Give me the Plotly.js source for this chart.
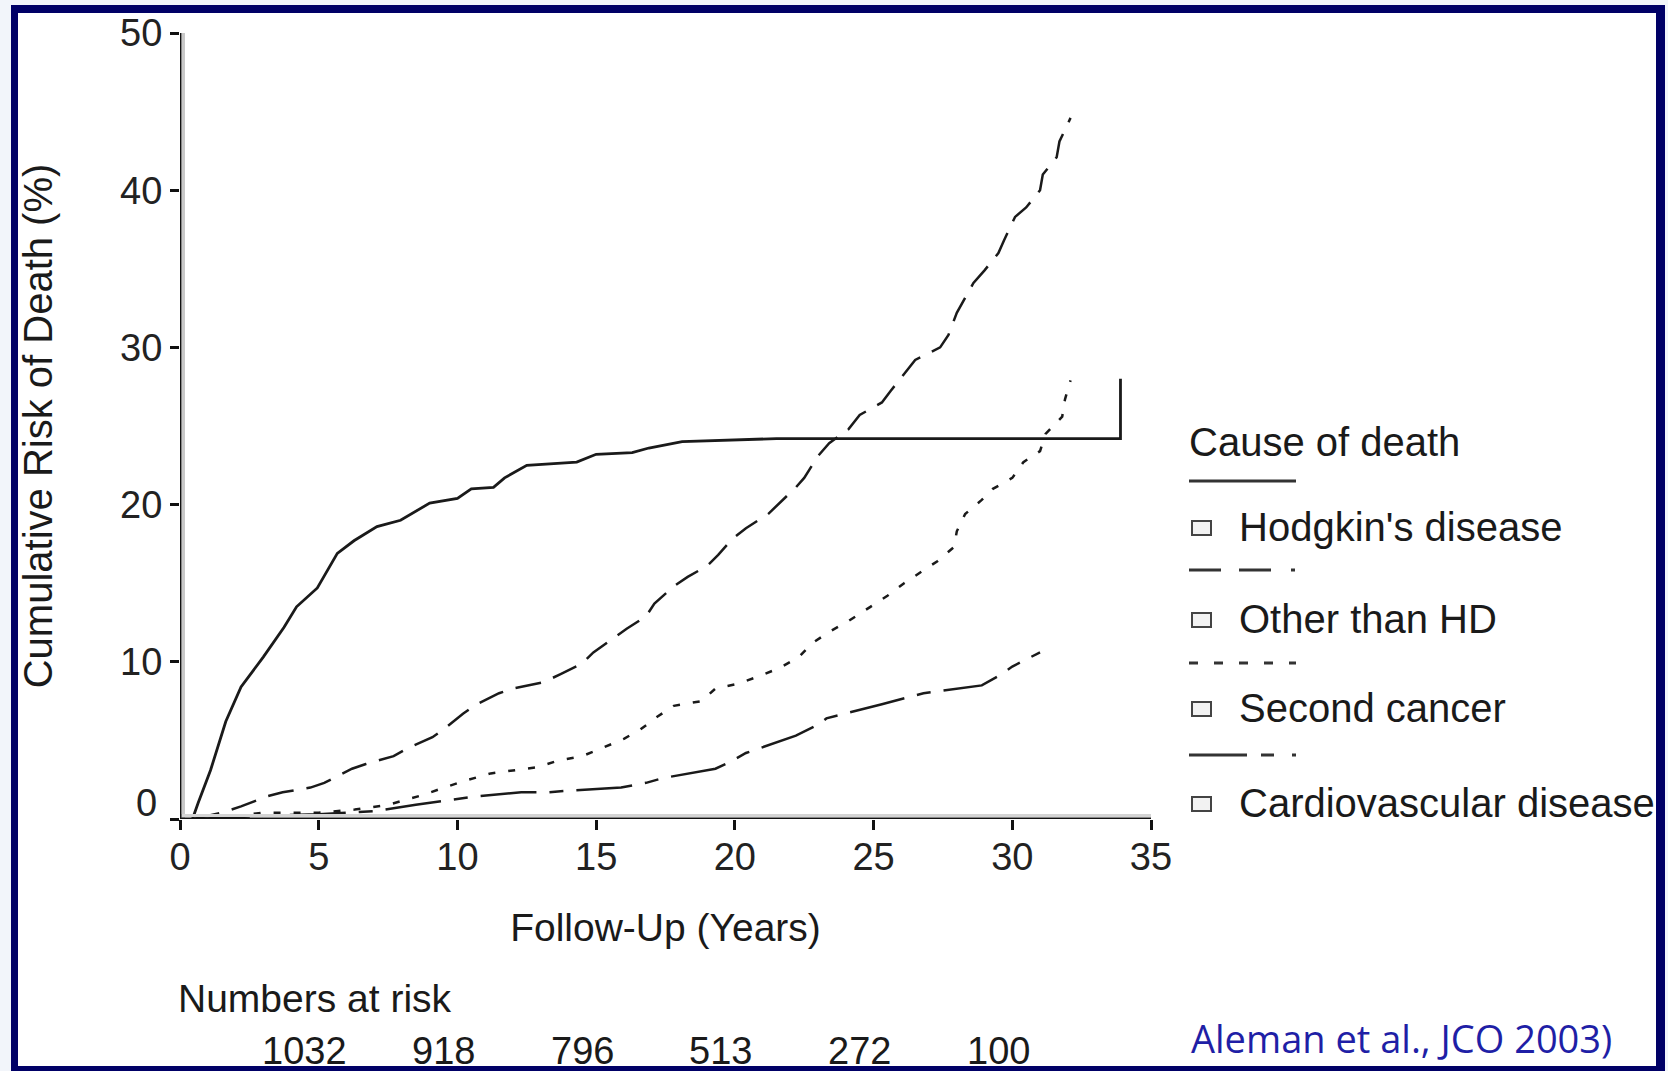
<!DOCTYPE html>
<html>
<head>
<meta charset="utf-8">
<script src="https://cdn.plot.ly/plotly-3.0.1.min.js"></script>
<style>
  html, body { margin: 0; padding: 0; background: #f2f5fa; }
  #frame { position: absolute; left: 11px; top: 5px; width: 1654px; height: 1066px;
           box-sizing: border-box; border-style: solid; border-color: #000066;
           border-width: 8px 9px 5px 7px; background: #ffffff; }
  #chart { position: absolute; left: 0; top: 0; width: 1668px; height: 1071px; }
</style>
</head>
<body>
<div id="frame"></div>
<div id="chart"></div>
<script>
// ---------------- data ----------------
const seriesNames = ["Hodgkin's disease", "Other than HD", "Second cancer", "Cardiovascular disease"];
const legendTitle = "Cause of death";

const hdYears = [0.45, 0.65, 1.1, 1.45, 1.65, 2.2, 2.55, 3.0, 3.75, 4.2, 4.95, 5.67, 6.27, 7.1, 7.95, 9.0, 10.0, 10.5, 11.3, 11.7, 12.5, 13.3, 14.3, 15.0, 16.3, 16.9, 18.1, 21.5, 33.9, 33.9];
const hdRisk  = [0, 1.0, 3.1, 5.0, 6.2, 8.4, 9.2, 10.3, 12.2, 13.5, 14.7, 16.9, 17.7, 18.6, 19.0, 20.1, 20.4, 21.0, 21.1, 21.7, 22.5, 22.6, 22.7, 23.2, 23.3, 23.6, 24.0, 24.2, 24.2, 28.0];

const otherYears = [0.5, 1.5, 2.2, 3.15, 3.7, 4.7, 5.2, 6.2, 6.7, 7.7, 8.2, 9.1, 9.5, 10.2, 10.7, 11.5, 12.0, 13.1, 13.7, 14.5, 14.9, 15.6, 16.1, 16.8, 17.1, 17.8, 18.3, 19.0, 19.4, 19.9, 20.4, 21.2, 21.6, 22.2, 22.5, 23.0, 23.4, 24.1, 24.5, 25.3, 25.6, 26.1, 26.5, 27.4, 27.7, 28.0, 28.6, 29.0, 29.5, 29.7, 30.1, 30.5, 31.0, 31.1, 31.6, 31.7, 32.1];
const otherRisk  = [0, 0.4, 0.8, 1.45, 1.7, 2.0, 2.3, 3.2, 3.5, 4.0, 4.5, 5.2, 5.7, 6.7, 7.3, 8.0, 8.3, 8.7, 9.2, 9.9, 10.6, 11.5, 12.1, 12.9, 13.7, 14.8, 15.4, 16.1, 16.8, 17.8, 18.5, 19.4, 20.1, 21.1, 21.7, 23.1, 23.9, 24.8, 25.7, 26.5, 27.2, 28.3, 29.2, 30.0, 30.8, 32.2, 34.1, 34.9, 36.0, 36.8, 38.3, 38.9, 40.0, 41.0, 42.1, 43.1, 44.6];

const cancerYears = [0.5, 2.0, 3.0, 5.0, 6.3, 7.5, 8.7, 9.5, 10.2, 11.2, 12.0, 12.9, 13.6, 14.5, 15.2, 16.0, 16.6, 17.2, 17.8, 18.8, 19.3, 20.1, 20.9, 21.6, 22.3, 22.8, 23.4, 24.1, 24.8, 25.5, 26.1, 26.7, 27.3, 27.9, 28.0, 28.3, 28.9, 29.3, 30.0, 30.4, 31.0, 31.2, 31.8, 31.9, 32.1];
const cancerRisk  = [0, 0.2, 0.4, 0.4, 0.6, 0.9, 1.5, 2.0, 2.4, 2.9, 3.1, 3.3, 3.7, 4.0, 4.5, 5.1, 5.7, 6.5, 7.2, 7.5, 8.3, 8.6, 9.1, 9.6, 10.3, 11.2, 11.9, 12.6, 13.4, 14.2, 15.0, 15.7, 16.4, 17.3, 18.3, 19.4, 20.3, 21.0, 21.7, 22.7, 23.4, 24.5, 25.6, 26.7, 27.9];

const cardioYears = [0.5, 3.0, 5.0, 7.0, 8.5, 9.5, 10.5, 12.3, 13.3, 14.0, 15.9, 16.8, 17.4, 19.3, 19.8, 20.4, 22.2, 23.0, 23.3, 25.3, 26.2, 26.8, 28.9, 29.6, 30.0, 31.0];
const cardioRisk  = [0, 0.2, 0.3, 0.5, 0.9, 1.15, 1.4, 1.7, 1.7, 1.8, 2.0, 2.3, 2.6, 3.2, 3.6, 4.2, 5.3, 6.0, 6.4, 7.3, 7.7, 8.0, 8.5, 9.2, 9.7, 10.6];

const xTickVals = [0, 5, 10, 15, 20, 25, 30, 35];
const yTickVals = [0, 10, 20, 30, 40, 50];
const yTickLabels = ["0", "10", "20", "30", "40", "50"];
const xTitle = "Follow-Up (Years)";
const yTitle = "Cumulative Risk of Death (%)";

const riskLabel = "Numbers at risk";
const riskYears = [5, 10, 15, 20, 25, 30];
const riskNumbers = [1032, 918, 796, 513, 272, 100];
const citation = "Aleman et al., JCO 2003)";

// ---------------- layout geometry ----------------
const W = 1668, H = 1071;
const ML = 180, MR = 517, MT = 33, MB = 252;
const PW = W - ML - MR, PH = H - MT - MB;
const xp = px => (px - ML) / PW;
const yp = py => (H - MB - py) / PH;

const FONT = "Liberation Sans, Arial, sans-serif";
const INK = "#1a1a1a";
const LW = 2.5;
const xMax = xTickVals[xTickVals.length - 1];
const yMax = yTickVals[yTickVals.length - 1];

const curveDash = ["solid", "26px,13px", "7px,13px", "56px,13px,14px,13px"];
const legendDash = ["solid", "32px,18px,32px,20px,4px,40px", "9px,16px", "58px,14px,13px,18px,4px,40px"];

const xs = [hdYears, otherYears, cancerYears, cardioYears];
const ys = [hdRisk, otherRisk, cancerRisk, cardioRisk];

const traces = seriesNames.map((name, i) => ({
  type: "scatter", mode: "lines", name: name,
  x: xs[i], y: ys[i],
  line: { color: INK, width: i === 0 ? 2.8 : LW, dash: curveDash[i] },
  showlegend: false, hoverinfo: "skip", cliponaxis: false
}));

// legend pieces (custom, as in the original figure)
const itemY = [527, 619, 708, 803];
const sampleY = [481, 570, 663, 755];
const shapes = [];
const annotations = [];

annotations.push({ xref: "paper", yref: "paper", x: xp(1187), y: yp(442), xanchor: "left", yanchor: "middle",
  text: legendTitle, showarrow: false, font: { family: FONT, size: 40, color: INK } });

seriesNames.forEach((name, i) => {
  shapes.push({ type: "line", xref: "paper", yref: "paper", x0: xp(1189), x1: xp(1296), y0: yp(sampleY[i]), y1: yp(sampleY[i]),
    line: { color: "#333333", width: 3, dash: legendDash[i] } });
  shapes.push({ type: "rect", xref: "paper", yref: "paper", x0: xp(1192), x1: xp(1211), y0: yp(itemY[i] - 6), y1: yp(itemY[i] + 8),
    line: { color: "#444444", width: 2 }, fillcolor: "#f2f2f2" });
  annotations.push({ xref: "paper", yref: "paper", x: xp(1237), y: yp(itemY[i]), xanchor: "left", yanchor: "middle",
    text: name, showarrow: false, font: { family: FONT, size: 40, color: INK } });
});

// axis lines with the gray shadow seen in the scanned figure
shapes.push({ type: "line", layer: "above", xref: "x", xsizemode: "pixel", xanchor: 0, x0: 3.5, x1: 3.5, yref: "y", y0: 0, y1: yMax,
  line: { color: "#c8c8c8", width: 3 } });
shapes.push({ type: "line", layer: "above", yref: "y", ysizemode: "pixel", yanchor: 0, y0: 3.5, y1: 3.5, xref: "x", x0: 0, x1: xMax,
  line: { color: "#d4d4d4", width: 3 } });
shapes.push({ type: "line", layer: "above", xref: "x", x0: 0, x1: 0, yref: "y", y0: 0, y1: yMax,
  line: { color: "#111111", width: 3 } });
shapes.push({ type: "line", layer: "above", xref: "x", x0: 0, x1: xMax, yref: "y", y0: 0, y1: 0,
  line: { color: "#111111", width: 3 } });

// raised "0" tick label
annotations.push({ xref: "paper", yref: "y", x: 0, y: yTickVals[0], xanchor: "right", yanchor: "middle", xshift: -21, yshift: 16,
  text: yTickLabels[0], showarrow: false, font: { family: FONT, size: 38, color: "#222222" } });

// numbers at risk
annotations.push({ xref: "paper", yref: "paper", x: xp(176), y: yp(998), xanchor: "left", yanchor: "middle",
  text: riskLabel, showarrow: false, font: { family: FONT, size: 39, color: INK } });
riskYears.forEach((yr, i) => {
  annotations.push({ xref: "x", yref: "paper", x: yr - 0.5, y: yp(1051), xanchor: "center", yanchor: "middle",
    text: String(riskNumbers[i]), showarrow: false, font: { family: FONT, size: 38, color: INK } });
});

// citation
annotations.push({ xref: "paper", yref: "paper", x: xp(1189), y: yp(1038), xanchor: "left", yanchor: "middle",
  text: citation, showarrow: false, font: { family: "Open Sans, sans-serif", size: 38, color: "#1f1fa6" } });

const layout = {
  width: W, height: H,
  margin: { l: ML, r: MR, t: MT, b: MB, pad: 0 },
  paper_bgcolor: "rgba(0,0,0,0)", plot_bgcolor: "rgba(0,0,0,0)",
  showlegend: false,
  xaxis: {
    range: [0, xMax], tickvals: xTickVals, ticktext: xTickVals.map(String),
    showgrid: false, zeroline: false, showline: false,
    ticks: "outside", ticklen: 10, tickwidth: 3, tickcolor: "#111111",
    ticklabelstandoff: -6,
    tickfont: { family: FONT, size: 38, color: "#222222" },
    title: { text: xTitle, font: { family: FONT, size: 39, color: INK }, standoff: 37 },
    automargin: false, fixedrange: true
  },
  yaxis: {
    range: [0, yMax], tickvals: yTickVals, ticktext: yTickLabels.map((t, i) => i === 0 ? "" : t),
    showgrid: false, zeroline: false, showline: false,
    ticks: "outside", ticklen: 9, tickwidth: 3, tickcolor: "#111111",
    tickfont: { family: FONT, size: 38, color: "#222222" },
    title: { text: yTitle, font: { family: FONT, size: 40, color: INK }, standoff: 55 },
    automargin: false, fixedrange: true
  },
  shapes: shapes,
  annotations: annotations
};

Plotly.newPlot("chart", traces, layout, { displayModeBar: false, staticPlot: true });
</script>
</body>
</html>
